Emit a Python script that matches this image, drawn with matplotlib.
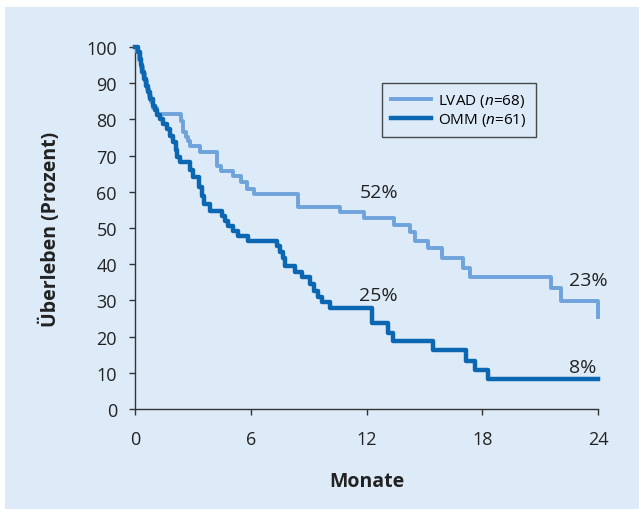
import matplotlib.pyplot as plt
from matplotlib.patches import Rectangle

# Kaplan-Meier Stufen (Monate, Überleben in %)
lvad_t = [0, 0.12, 0.22, 0.32, 0.42, 0.5, 0.6, 0.7, 0.82, 0.95, 1.15, 2.4, 2.5, 2.62, 2.75, 2.85, 3.35,
          4.25, 4.45, 5.1, 5.5, 5.8, 6.15, 8.45, 10.65, 11.85, 13.45, 14.25, 14.5, 15.2, 15.9,
          17.0, 17.35, 21.55, 22.1, 23.99, 24.0]
lvad_s = [100, 98.5, 96.5, 94.5, 92.5, 90.5, 88.5, 86.5, 84.8, 83.2, 81.5, 79.6, 76.4, 75.2, 74.0, 72.7, 71.0,
          67.2, 65.8, 64.4, 62.6, 60.8, 59.4, 55.9, 54.3, 52.7, 50.8, 48.8, 46.5, 44.4, 41.6,
          38.9, 36.4, 33.3, 29.9, 25.3, 25.3]

omm_t = [0, 0.17, 0.25, 0.3, 0.38, 0.45, 0.55, 0.65, 0.78, 0.95, 1.05, 1.15, 1.3, 1.47, 1.64, 1.81,
         1.95, 2.1, 2.2, 2.33, 2.85, 3.02, 3.3, 3.45, 3.6, 3.89, 4.49, 4.65, 4.84, 5.1, 5.36, 5.87,
         7.35, 7.5, 7.65, 7.8, 8.3, 8.65, 9.07, 9.3, 9.5, 9.7, 10.1, 12.3, 13.1, 13.36, 15.46,
         17.14, 17.62, 18.3, 24.0]
omm_s = [100, 98.5, 96.7, 94.9, 93.0, 91.2, 89.3, 87.5, 85.6, 83.8, 82.5, 81.1, 80.1, 78.7, 77.3, 75.5,
         73.7, 71.5, 69.5, 68.1, 65.9, 64.0, 61.2, 58.9, 56.6, 54.8, 53.4, 52.0, 50.6, 49.3, 47.9, 46.5,
         45.1, 43.5, 41.8, 39.6, 37.8, 36.4, 34.5, 32.7, 31.0, 29.5, 27.8, 23.8, 21.0, 18.9, 16.4,
         13.3, 10.9, 8.3, 8.3]

labels = ["52%", "25%", "23%", "8%"]
label_x = [12.63, 12.63, 23.5, 23.2]
label_y = [59.9, 31.5, 35.6, 11.6]

bg = "#ddeaf7"
c_lvad = "#6fa3dc"
c_omm = "#0b67b2"

plt.rcParams["font.family"] = ["Open Sans", "DejaVu Sans"]
plt.rcParams["mathtext.fontset"] = "custom"
plt.rcParams["mathtext.it"] = "Open Sans:italic"
plt.rcParams["mathtext.rm"] = "Open Sans"

fig = plt.figure(figsize=(6.39, 5.10), dpi=100, facecolor="white")
fig.patches.append(Rectangle((5 / 639, 0), 1, 502 / 510, transform=fig.transFigure,
                             facecolor=bg, edgecolor="none", zorder=-10))

ax = fig.add_axes([135 / 639, 100 / 510, 463 / 639, 362 / 510])
ax.set_zorder(1)
ax.patch.set_alpha(0)

ax.step(lvad_t, lvad_s, where="post", color=c_lvad, lw=2.8, clip_on=False,
        label=r"LVAD ($\it{n}$=68)", zorder=3)
ax.step(omm_t, omm_s, where="post", color=c_omm, lw=3.2, clip_on=False,
        label=r"OMM ($\it{n}$=61)", zorder=4)

for txt, x, y in zip(labels, label_x, label_y):
    ax.text(x, y, txt, ha="center", va="center", fontsize=14, color="#222222")

ax.set_xlim(0, 24)
ax.set_ylim(0, 100)
ax.set_xticks([0, 6, 12, 18, 24])
ax.set_yticks(range(0, 101, 10))
for s in ["top", "right"]:
    ax.spines[s].set_visible(False)
for s in ["left", "bottom"]:
    ax.spines[s].set_color("#333333")
    ax.spines[s].set_linewidth(1.0)
ax.tick_params(direction="out", length=4, width=1, color="#333333",
               labelsize=13, labelcolor="#222222")
ax.tick_params(axis="x", pad=11)
ax.tick_params(axis="y", pad=9)

ax.set_xlabel("Monate", fontsize=14, fontweight="bold", labelpad=17, color="#222222")
ax.set_ylabel("Überleben (Prozent)", fontsize=14, fontweight="bold", labelpad=18, color="#222222")

leg = ax.legend(loc="upper left", bbox_to_anchor=(0.533, 0.90), frameon=True, fancybox=False,
                edgecolor="#222222", facecolor=bg, fontsize=11, handlelength=2.6,
                borderpad=0.6, labelspacing=0.12, borderaxespad=0, handletextpad=0.5)
leg.get_frame().set_linewidth(1.0)

fig.savefig("out.png", dpi=100, facecolor="white")
